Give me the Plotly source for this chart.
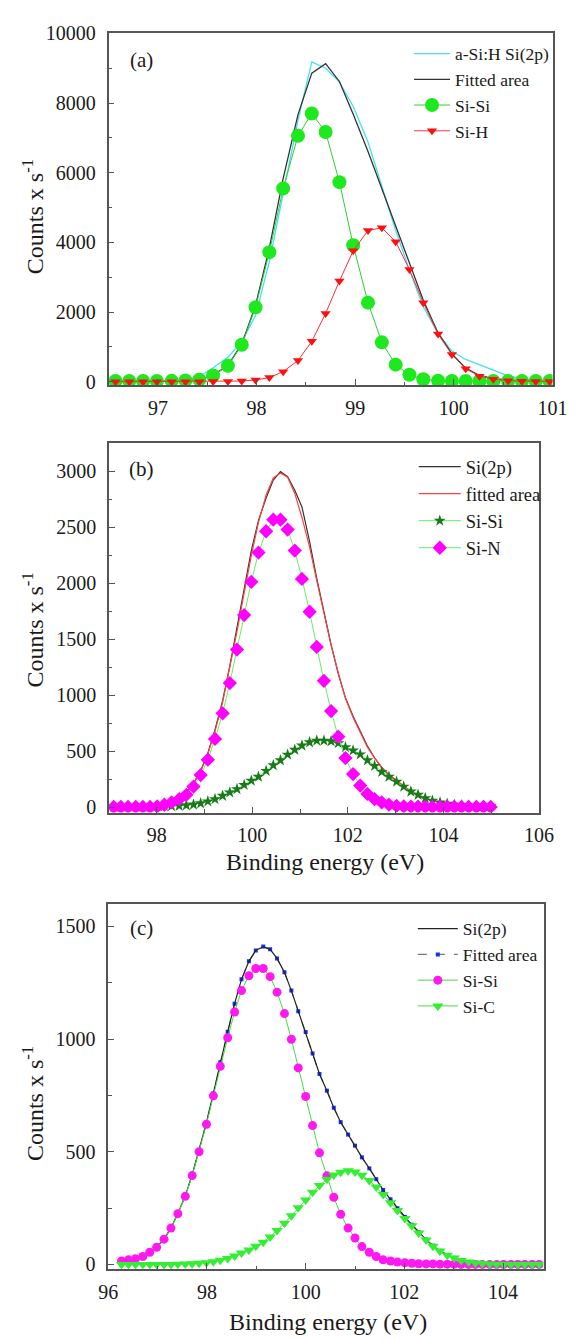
import plotly.graph_objects as go

# ---------------------------------------------------------------- data
# (a) a-Si:H, Si(2p) core level
xa = [96.57, 96.71, 96.85, 96.99, 97.14, 97.28, 97.42, 97.56, 97.71, 97.85,
      97.99, 98.13, 98.27, 98.42, 98.56, 98.70, 98.84, 98.98, 99.13, 99.27,
      99.41, 99.55, 99.69, 99.84, 99.98, 100.12, 100.26, 100.40, 100.55, 100.69,
      100.83, 100.97]
a_measured = [30, 30, 30, 30, 30, 40, 150, 400, 700, 1150,
              1900, 3450, 5400, 7500, 9180, 9000, 8600, 7900, 6880, 5600,
              4350, 3200, 2150, 1380, 880, 640, 480, 340, 170, 80,
              40, 30]
a_fitted = [20, 20, 20, 20, 25, 35, 60, 185, 470, 1080,
            2190, 3840, 5840, 7670, 8860, 9130, 8620, 7680, 6610, 5550,
            4510, 3420, 2340, 1400, 800, 390, 180, 90, 50, 35,
            30, 25]
a_sisi = [20, 20, 20, 20, 25, 35, 60, 180, 460, 1060,
          2140, 3720, 5550, 7060, 7700, 7170, 5730, 3920, 2270, 1130,
          490, 200, 70, 30, 20, 20, 20, 20, 20, 20,
          20, 20]
a_sih = [0, 0, 0, 0, 0, 0, 0, 5, 10, 20,
         50, 120, 290, 610, 1160, 1960, 2890, 3760, 4340, 4420,
         4020, 3220, 2270, 1370, 780, 370, 160, 70, 30, 15,
         10, 5]

# (b) Si(2p) with Si-Si / Si-N components
xb = [97.10, 97.25, 97.40, 97.56, 97.71, 97.86, 98.01, 98.16, 98.31, 98.47,
      98.62, 98.77, 98.92, 99.07, 99.22, 99.38, 99.53, 99.68, 99.83, 99.98,
      100.13, 100.29, 100.44, 100.59, 100.74, 100.89, 101.04, 101.20, 101.35, 101.50,
      101.65, 101.80, 101.95, 102.11, 102.26, 102.41, 102.56, 102.71, 102.86, 103.02,
      103.17, 103.32, 103.47, 103.62, 103.77, 103.93, 104.08, 104.23, 104.38, 104.53,
      104.69, 104.84, 104.99]
b_measured = [2, 2, 3, 3, 4, 5, 12, 28, 52, 85,
              130, 210, 325, 480, 690, 950, 1260, 1600, 1950, 2290,
              2560, 2760, 2920, 2995, 2950, 2830, 2680, 2370, 2040, 1730,
              1450, 1190, 975, 810, 680, 545, 440, 350, 285, 230,
              180, 140, 105, 78, 57, 42, 30, 22, 16, 12,
              10, 8, 7]
b_fitted = [1, 1, 2, 2, 3, 4, 10, 26, 49, 80,
            124, 204, 318, 473, 678, 937, 1237, 1566, 1911, 2246,
            2542, 2786, 2939, 2983, 2945, 2801, 2586, 2322, 2023, 1720,
            1444, 1198, 971, 799, 661, 534, 437, 355, 291, 236,
            187, 141, 111, 80, 56, 41, 29, 20, 15, 12,
            9, 7, 6]
b_sisi = [1, 1, 2, 2, 3, 4, 5, 6, 8, 10,
          15, 22, 33, 50, 70, 100, 130, 160, 197, 235,
          270, 323, 373, 417, 467, 511, 549, 578, 593, 593,
          587, 570, 534, 505, 470, 417, 367, 314, 270, 226,
          182, 138, 109, 79, 56, 41, 29, 20, 15, 12,
          9, 7, 6]
b_sin = [0, 0, 0, 0, 0, 0, 5, 20, 41, 70,
         109, 182, 285, 423, 608, 837, 1107, 1406, 1714, 2011,
         2272, 2463, 2566, 2566, 2478, 2290, 2037, 1744, 1430, 1127,
         857, 628, 437, 294, 191, 117, 70, 41, 21, 10,
         5, 3, 2, 1, 0, 0, 0, 0, 0, 0,
         0, 0, 0]

# (c) Si(2p) with Si-Si / Si-C components
xc = [96.27, 96.41, 96.55, 96.70, 96.84, 96.98, 97.13, 97.27, 97.41, 97.56,
      97.70, 97.84, 97.99, 98.13, 98.27, 98.42, 98.56, 98.70, 98.85, 98.99,
      99.14, 99.28, 99.42, 99.57, 99.71, 99.85, 100.00, 100.14, 100.28, 100.43,
      100.57, 100.71, 100.86, 101.00, 101.14, 101.29, 101.43, 101.57, 101.72, 101.86,
      102.01, 102.15, 102.29, 102.44, 102.58, 102.72, 102.87, 103.01, 103.15, 103.30,
      103.44, 103.58, 103.73, 103.87, 104.01, 104.16, 104.30, 104.44, 104.59, 104.73]
c_measured = [15, 20, 25, 35, 54, 76, 112, 161, 226, 304,
              397, 505, 629, 760, 897, 1032, 1157, 1265, 1345, 1394,
              1409, 1398, 1358, 1296, 1215, 1123, 1031, 936, 845, 771,
              695, 631, 576, 527, 475, 426, 378, 330, 289, 249,
              211, 176, 142, 110, 83, 60, 42, 29, 17, 10,
              6, 4, 2, 1, 0, 0, 0, 0, 0, 0]
c_fitted = [15, 20, 25, 35, 54, 76, 112, 161, 226, 304,
            397, 505, 629, 760, 897, 1032, 1157, 1265, 1345, 1393,
            1411, 1399, 1358, 1296, 1215, 1123, 1031, 936, 845, 771,
            695, 631, 576, 527, 475, 426, 378, 330, 289, 249,
            211, 176, 142, 110, 83, 60, 42, 29, 17, 10,
            6, 4, 2, 1, 0, 0, 0, 0, 0, 0]
c_sisi = [15, 20, 25, 35, 54, 76, 112, 161, 225, 302,
          394, 500, 622, 748, 879, 1006, 1120, 1215, 1281, 1313,
          1313, 1277, 1208, 1113, 999, 872, 745, 616, 495, 393,
          298, 222, 161, 117, 79, 54, 35, 20, 15, 10,
          7, 5, 3, 2, 2, 1, 1, 1, 0, 0,
          0, 0, 0, 0, 0, 0, 0, 0, 0, 0]
c_sic = [0, 0, 0, 0, 0, 0, 0, 0, 1, 2,
         3, 5, 7, 12, 18, 26, 37, 50, 64, 80,
         98, 122, 150, 183, 216, 251, 286, 320, 350, 378,
         397, 409, 415, 410, 396, 372, 343, 310, 274, 239,
         204, 171, 139, 108, 81, 59, 41, 28, 17, 10,
         6, 4, 2, 1, 0, 0, 0, 0, 0, 0]

# ---------------------------------------------------------------- layout helpers
W, H = 579, 1341
SERIF = "Liberation Serif"
TEXT = "#1a1a1a"
FRAME = "#555555"


def fx(px):
    return px / W


def fy(py):
    return 1 - py / H


# plot boxes in page pixels: left, right, top, bottom
BOX_A = (103.0, 567.0, 22.7, 379.3)
BOX_B = (103.4, 552.8, 438.0, 812.5)
BOX_C = (102.7, 557.6, 905.0, 1275.0)


def xaxis(box, rng, dtick, minor_dtick, tick0, anchor):
    return dict(
        domain=[fx(box[0]), fx(box[1])], range=rng, anchor=anchor,
        tick0=tick0, dtick=dtick,
        showline=True, linecolor=FRAME, linewidth=1.5, mirror=True,
        ticks="inside", ticklen=6, tickwidth=1.2, tickcolor=FRAME,
        minor=dict(ticks="inside", ticklen=3.5, tickwidth=1, tickcolor=FRAME,
                   dtick=minor_dtick, tick0=tick0),
        showgrid=False, zeroline=False, ticklabelstandoff=4,
        tickfont=dict(family=SERIF, size=20, color=TEXT),
    )


def yaxis(box, rng, dtick, minor_dtick, anchor):
    return dict(
        domain=[fy(box[3]), fy(box[2])], range=rng, anchor=anchor,
        tick0=0, dtick=dtick, tickformat="d",
        showline=True, linecolor=FRAME, linewidth=1.5, mirror=True,
        ticks="inside", ticklen=6, tickwidth=1.2, tickcolor=FRAME,
        minor=dict(ticks="inside", ticklen=3.5, tickwidth=1, tickcolor=FRAME,
                   dtick=minor_dtick, tick0=0),
        showgrid=False, zeroline=False, ticklabelstandoff=7,
        tickfont=dict(family=SERIF, size=20, color=TEXT),
    )


fig = go.Figure()

# ---------------------------------------------------------------- panel (a)
fig.add_trace(go.Scatter(x=xa, y=a_measured, mode="lines", name="a-Si:H Si(2p)",
                         line=dict(color="#3fe3f2", width=1.3),
                         xaxis="x", yaxis="y", legend="legend"))
fig.add_trace(go.Scatter(x=xa, y=a_fitted, mode="lines", name="Fitted area",
                         line=dict(color="#333333", width=1.3),
                         xaxis="x", yaxis="y", legend="legend"))
fig.add_trace(go.Scatter(x=xa, y=a_sisi, mode="lines+markers", name="Si-Si",
                         line=dict(color="#2fcf2f", width=1),
                         marker=dict(symbol="circle", size=14, color="#1ee81e"),
                         xaxis="x", yaxis="y", legend="legend"))
fig.add_trace(go.Scatter(x=xa, y=a_sih, mode="lines+markers", name="Si-H",
                         line=dict(color="#ff3030", width=1),
                         marker=dict(symbol="triangle-down", size=9, color="#ff1010"),
                         xaxis="x", yaxis="y", legend="legend"))

# ---------------------------------------------------------------- panel (b)
fig.add_trace(go.Scatter(x=xb, y=b_measured, mode="lines", name="Si(2p)",
                         line=dict(color="#333333", width=1.2),
                         xaxis="x2", yaxis="y2", legend="legend2"))
fig.add_trace(go.Scatter(x=xb, y=b_fitted, mode="lines", name="fitted area",
                         line=dict(color="#ff4040", width=1.2),
                         xaxis="x2", yaxis="y2", legend="legend2"))
fig.add_trace(go.Scatter(x=xb, y=b_sisi, mode="lines+markers", name="Si-Si",
                         line=dict(color="#66ee66", width=1),
                         marker=dict(symbol="star", size=9, color="#187a18"),
                         xaxis="x2", yaxis="y2", legend="legend2"))
fig.add_trace(go.Scatter(x=xb, y=b_sin, mode="lines+markers", name="Si-N",
                         line=dict(color="#66ee66", width=1),
                         marker=dict(symbol="diamond", size=11, color="#ff00ff"),
                         xaxis="x2", yaxis="y2", legend="legend2"))

# ---------------------------------------------------------------- panel (c)
fig.add_trace(go.Scatter(x=xc, y=c_fitted, mode="lines+markers", name="Fitted area",
                         line=dict(color="#777777", width=1.2, dash="dash"),
                         marker=dict(symbol="square", size=4, color="#1530ff"),
                         xaxis="x3", yaxis="y3", legend="legend3", legendrank=2))
fig.add_trace(go.Scatter(x=xc, y=c_measured, mode="lines", name="Si(2p)",
                         line=dict(color="#222222", width=1.2),
                         xaxis="x3", yaxis="y3", legend="legend3", legendrank=1))
fig.add_trace(go.Scatter(x=xc, y=c_sisi, mode="lines+markers", name="Si-Si",
                         line=dict(color="#44dd44", width=1),
                         marker=dict(symbol="circle", size=9, color="#ff19f0"),
                         xaxis="x3", yaxis="y3", legend="legend3", legendrank=3))
fig.add_trace(go.Scatter(x=xc, y=c_sic, mode="lines+markers", name="Si-C",
                         line=dict(color="#44dd44", width=1),
                         marker=dict(symbol="triangle-down", size=10, color="#33ee33"),
                         xaxis="x3", yaxis="y3", legend="legend3", legendrank=4))


def legend_at(px, py, size, item_w):
    return dict(x=fx(px), y=fy(py), xanchor="left", yanchor="top",
                bgcolor="rgba(0,0,0,0)", borderwidth=0, itemwidth=item_w,
                font=dict(family=SERIF, size=size, color=TEXT))


annotations = []


def add_text(px, py, text, size, angle=0):
    annotations.append(dict(x=fx(px), y=fy(py), xref="paper", yref="paper",
                            text=text, showarrow=False, textangle=angle,
                            xanchor="center", yanchor="middle",
                            font=dict(family=SERIF, size=size, color=TEXT)))


add_text(137, 50, "(a)", 21)
add_text(137, 464, "(b)", 21)
add_text(137, 929, "(c)", 21)
ylabel = "Counts x s<sup>-1</sup>"
add_text(24, 208, ylabel, 24, -90)
add_text(24, 627, ylabel, 24, -90)
add_text(24, 1107, ylabel, 24, -90)
add_text(329, 863, "Binding energy (eV)", 24)
add_text(332, 1329, "Binding energy (eV)", 24)

fig.update_layout(
    width=W, height=H, autosize=False,
    margin=dict(l=0, r=0, t=0, b=0, pad=0),
    paper_bgcolor="white", plot_bgcolor="white",
    font=dict(family=SERIF, color=TEXT),
    xaxis=xaxis(BOX_A, [96.5, 101], 1, 0.5, 97, "y"),
    yaxis=yaxis(BOX_A, [-100, 10000], 2000, 1000, "x"),
    xaxis2=xaxis(BOX_B, [97, 106], 2, 1, 98, "y2"),
    yaxis2=yaxis(BOX_B, [-50, 3250], 500, 250, "x2"),
    xaxis3=xaxis(BOX_C, [96, 104.82], 2, 1, 96, "y3"),
    yaxis3=yaxis(BOX_C, [-20, 1600], 500, 250, "x3"),
    legend=legend_at(417, 25, 17.5, 36),
    legend2=legend_at(422, 443, 18.5, 42),
    legend3=legend_at(421, 912, 17.5, 40),
    annotations=annotations,
    showlegend=True,
)

fig.write_html("out.html")
